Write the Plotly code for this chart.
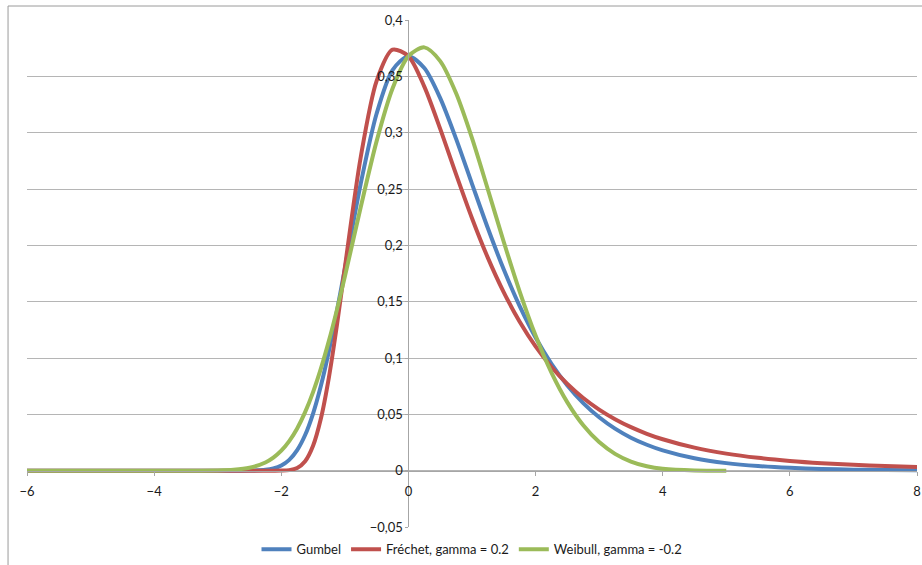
import plotly.graph_objects as go

# Sample points of the three extreme-value densities
x_values = [-6, -5, -4, -3.5, -3, -2.75, -2.5, -2.25, -2.125, -2, -1.875,
            -1.75, -1.625, -1.5, -1.375, -1.25, -1.125, -1, -0.75, -0.5,
            -0.25, 0, 0.25, 0.5, 0.75, 1, 1.25, 1.5, 1.75, 2, 2.25, 2.5,
            2.75, 3, 3.25, 3.5, 3.75, 4, 4.5, 5, 5.5, 6, 6.5, 7, 7.5, 8]

gumbel = [0, 0, 0, 0, 0.0, 0.000003, 0.00006, 0.00072, 0.00194, 0.00457,
          0.00960, 0.01822, 0.03164, 0.05071, 0.07577, 0.1064, 0.14154,
          0.1794, 0.2549, 0.3170, 0.3556, 0.3679, 0.3574, 0.3307, 0.2945,
          0.2546, 0.2151, 0.1785, 0.1460, 0.1182, 0.0949, 0.0756, 0.0600,
          0.0474, 0.0373, 0.0293, 0.0230, 0.0180, 0.0110, 0.0067, 0.0041,
          0.0025, 0.0015, 0.0009, 0.00055, 0.00034]

frechet = [0, 0, 0, 0, 0, 0, 0, 0, 0.0000034, 0.000056, 0.00047, 0.0024,
           0.00841, 0.02215, 0.04675, 0.0831, 0.12907, 0.1803, 0.2784,
           0.3460, 0.3736, 0.3679, 0.3409, 0.3034, 0.2630, 0.2241, 0.1889,
           0.1583, 0.1322, 0.1103, 0.09205, 0.07696, 0.06449, 0.05418,
           0.04567, 0.03861, 0.03276, 0.02789, 0.02041, 0.01514, 0.01138,
           0.00865, 0.00665, 0.00517, 0.00405, 0.00321]

x_weibull = [-6, -5, -4, -3.5, -3, -2.75, -2.5, -2.25, -2.125, -2, -1.875,
             -1.75, -1.625, -1.5, -1.375, -1.25, -1.125, -1, -0.75, -0.5,
             -0.25, 0, 0.25, 0.5, 0.75, 1, 1.25, 1.5, 1.75, 2, 2.25, 2.5,
             2.75, 3, 3.25, 3.5, 3.75, 4, 4.5, 5]

weibull = [0, 0, 0, 0.000006, 0.00018, 0.00075, 0.00255, 0.00727, 0.01157,
           0.01773, 0.02622, 0.03749, 0.05191, 0.06971, 0.09094, 0.11542,
           0.14273, 0.17221, 0.23403, 0.29251, 0.33921, 0.36788, 0.37571,
           0.36352, 0.33495, 0.29516, 0.24957, 0.20295, 0.15895, 0.11990,
           0.08702, 0.06058, 0.04026, 0.02534, 0.01493, 0.00808, 0.00390,
           0.0016, 0.0001, 0]

names = ["Gumbel", "Fréchet, gamma = 0.2", "Weibull, gamma = -0.2"]
colors = ["#4F81BD", "#C0504D", "#9BBB59"]

x_range = [-6, 8]
y_range = [-0.05, 0.4]

fig = go.Figure()
for xs, ys, name, color in zip([x_values, x_values, x_weibull],
                               [gumbel, frechet, weibull], names, colors):
    fig.add_trace(go.Scatter(
        x=xs, y=ys, name=name, mode="lines",
        line=dict(color=color, width=4, shape="spline", smoothing=0.8),
    ))

axis_gray = "#a6a6a6"
font = dict(family="Lato, 'Open Sans', sans-serif", size=13, color="#1a1a1a")

# the axes cross at the origin
fig.update_xaxes(
    range=x_range, dtick=2, tick0=-6,
    showgrid=False, zeroline=False,
    showline=True, linecolor=axis_gray, linewidth=1,
    anchor="free", position=(0 - y_range[0]) / (y_range[1] - y_range[0]),
    ticks="outside", ticklen=4, tickcolor=axis_gray,
    ticklabelstandoff=5,
    tickfont=font,
)
fig.update_yaxes(
    range=y_range, dtick=0.05, tick0=0,
    showgrid=True, gridcolor="#b5b5b5", gridwidth=1,
    zeroline=False,
    showline=True, linecolor=axis_gray, linewidth=1,
    anchor="free", position=(0 - x_range[0]) / (x_range[1] - x_range[0]),
    ticks="outside", ticklen=3, tickcolor=axis_gray,
    tickfont=font,
)

# outer chart frame
fig.add_shape(type="rect", xref="paper", yref="paper",
              x0=-0.0213, x1=1.2, y0=-0.3, y1=1.0276,
              line=dict(color="#9a9a9a", width=1), fillcolor="rgba(0,0,0,0)",
              layer="below")

fig.update_layout(
    width=922, height=565,
    margin=dict(l=27, r=5, t=20, b=38, autoexpand=False),
    paper_bgcolor="white", plot_bgcolor="white",
    separators=", ",
    font=font,
    showlegend=True,
    legend=dict(orientation="h", x=0.5, xanchor="center",
                y=-0.044, yanchor="middle",
                font=font, itemwidth=30, tracegroupgap=0,
                bgcolor="rgba(0,0,0,0)"),
)

fig.write_html("out.html")
